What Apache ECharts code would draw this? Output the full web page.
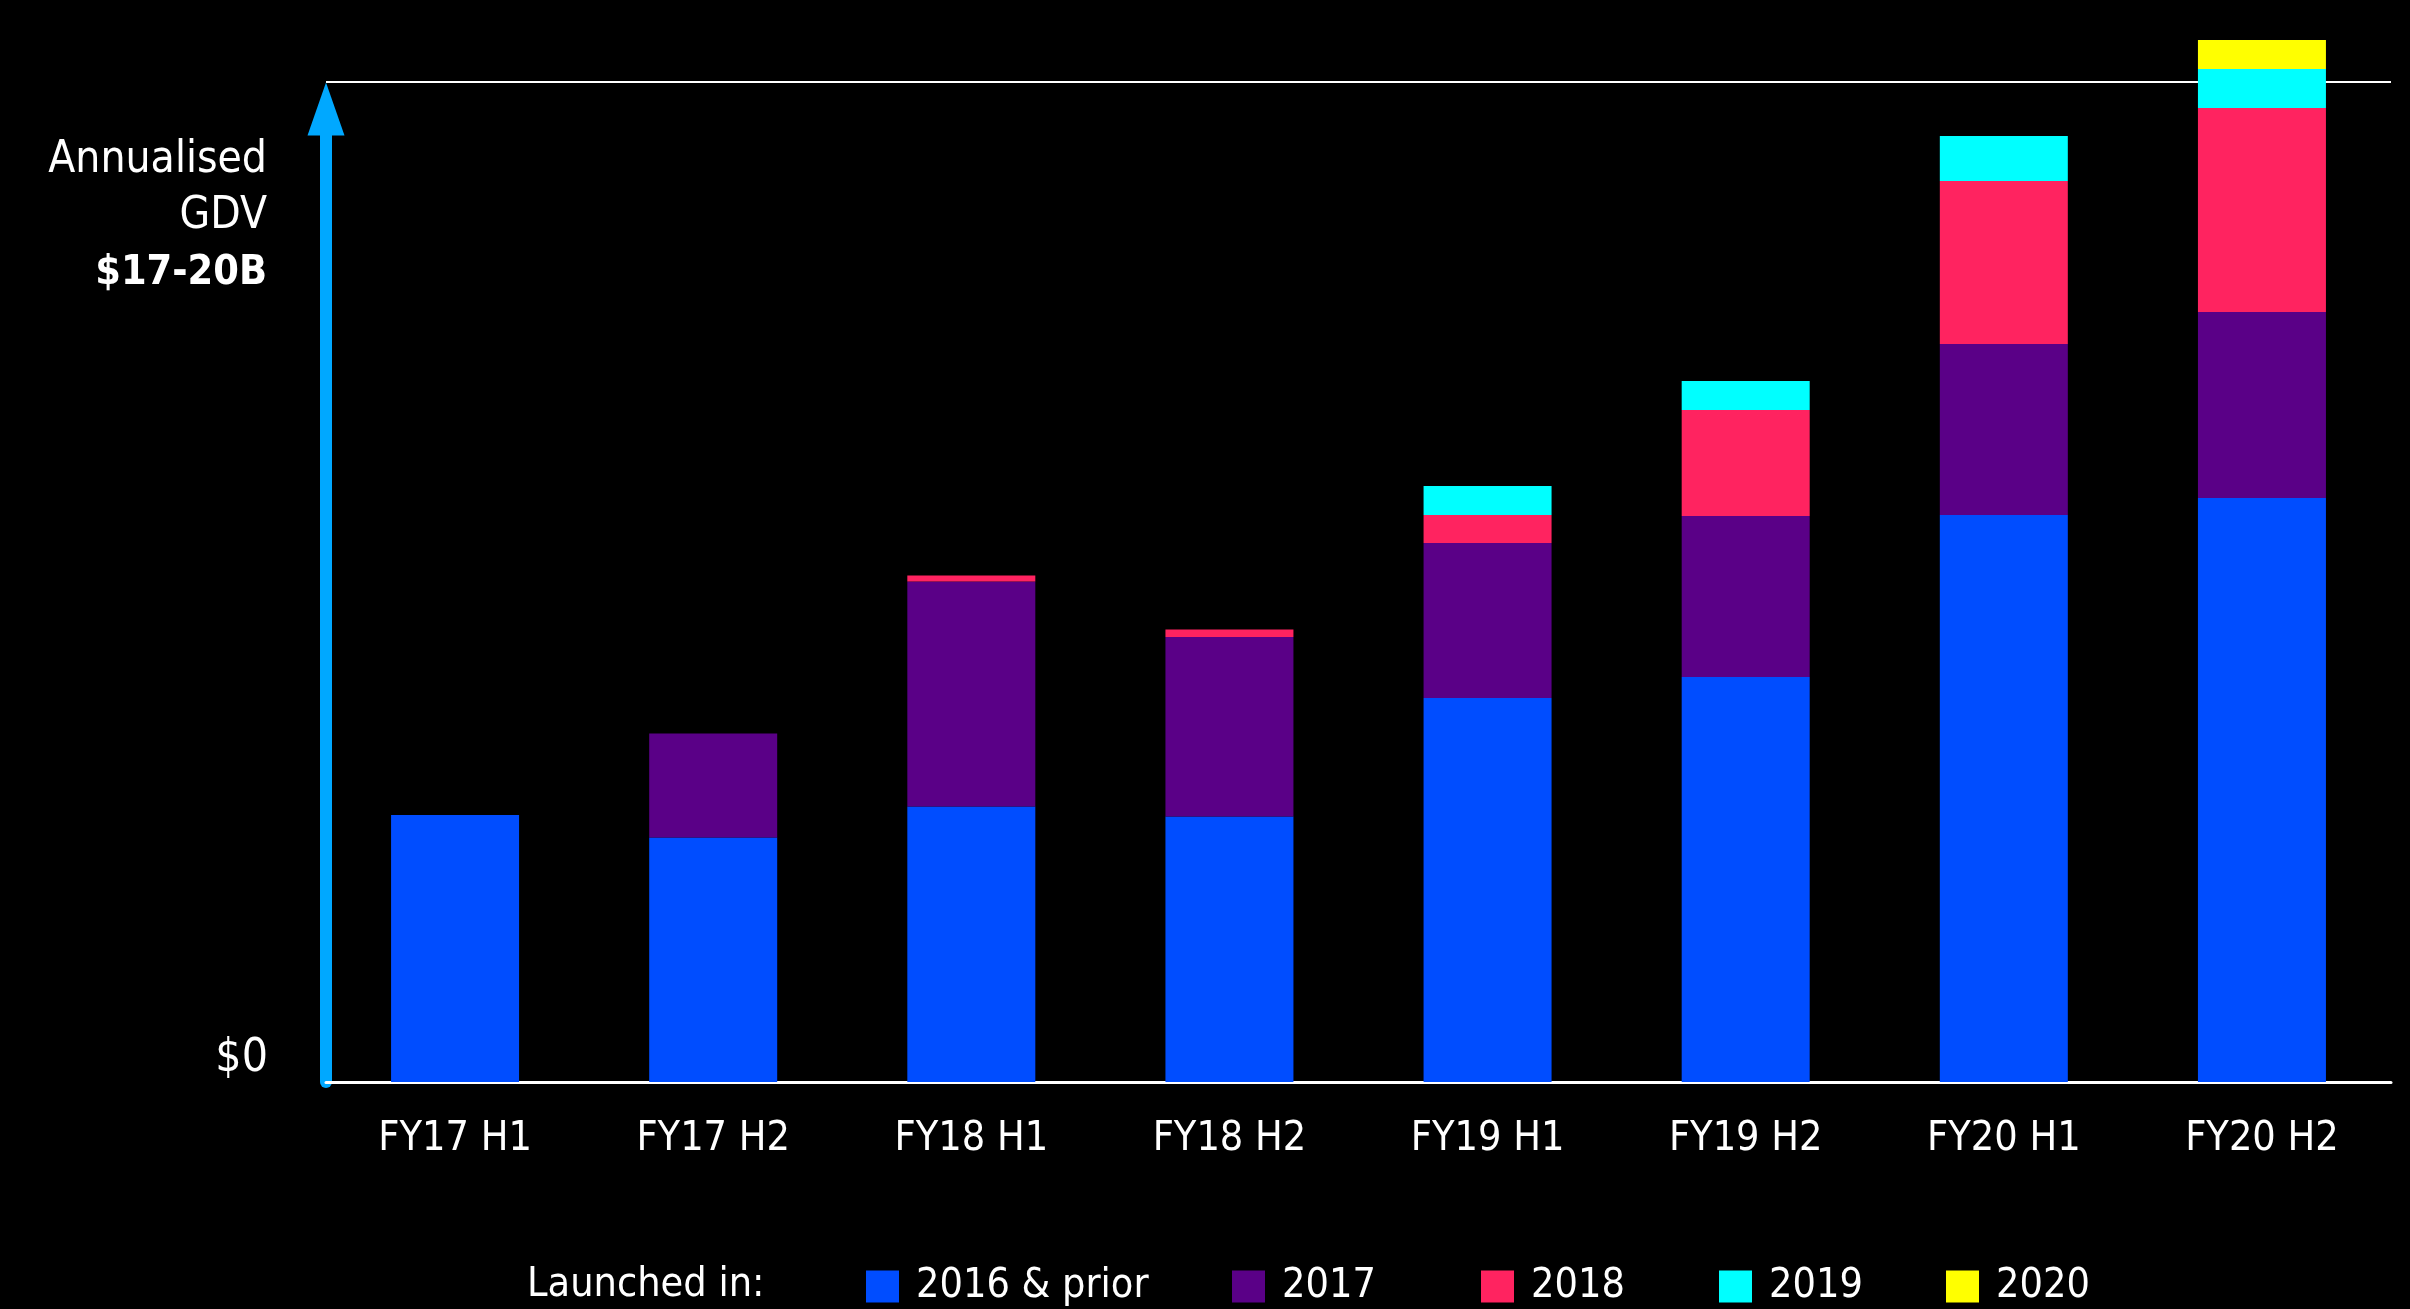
<!DOCTYPE html>
<html>
<head>
<meta charset="utf-8">
<title>Annualised GDV by launch year</title>
<script src="https://cdn.jsdelivr.net/npm/echarts@6/dist/echarts.min.js"></script>
<style>
  html, body { margin: 0; padding: 0; background: #000; }
  #chart { width: 2410px; height: 1309px; }
</style>
</head>
<body>
<div id="chart"></div>
<script>
// Half-year periods on the category axis
const periods = ['FY17 H1', 'FY17 H2', 'FY18 H1', 'FY18 H2', 'FY19 H1', 'FY19 H2', 'FY20 H1', 'FY20 H2'];

// Annualised GDV ($B) by the year the merchants were launched in
const launched2016AndPrior = [5.34, 4.89, 5.51, 5.31, 7.68, 8.10, 11.34, 11.68];
const launched2017 = [0, 2.08, 4.50, 3.59, 3.10, 3.22, 3.42, 3.72];
const launched2018 = [0, 0, 0.12, 0.15, 0.56, 2.12, 3.26, 4.08];
const launched2019 = [0, 0, 0, 0, 0.58, 0.58, 0.90, 0.78];
const launched2020 = [0, 0, 0, 0, 0, 0, 0, 0.58];

const seriesNames = ['2016 & prior', '2017', '2018', '2019', '2020'];
const seriesColors = ['#004DFF', '#5A0087', '#FF2360', '#00FFFF', '#FFFF00'];

// Annualised GDV reference level; the value axis tops out there
const annualisedLevel = 20;
// The arrowed axis stops where its arrowhead begins
const arrowAxisMax = 18.94;

const FONT = "'DejaVu Sans Condensed', 'DejaVu Sans', sans-serif";
const chart = echarts.init(document.getElementById('chart'), null, { renderer: 'canvas' });

const seriesData = [launched2016AndPrior, launched2017, launched2018, launched2019, launched2020];
const series = seriesData.map((values, i) => ({
  name: seriesNames[i],
  type: 'bar',
  stack: 'gdv',
  xAxisIndex: 0,
  yAxisIndex: 0,
  data: values,
  barWidth: 128,
  clip: false,
  z: 3,
  itemStyle: { color: seriesColors[i] },
  emphasis: { disabled: true },
  // Reference line for the annualised GDV level, drawn behind the bars
  markLine: i === 0 ? {
    z: 1,
    silent: true,
    symbol: 'none',
    label: { show: false },
    lineStyle: { color: '#FFFFFF', width: 2, type: 'solid' },
    data: [{ yAxis: annualisedLevel }]
  } : undefined
}));

// One legend per entry so each swatch sits at its own spot along the bottom row
const legendLefts = [861, 1227, 1476, 1714, 1941];
const legends = seriesNames.map((name, i) => ({
  data: [name],
  left: legendLefts[i],
  top: 1261,
  orient: 'horizontal',
  icon: 'rect',
  itemWidth: 33,
  itemHeight: 32,
  itemGap: 0,
  selectedMode: false,
  textStyle: { color: '#FFFFFF', fontSize: 41, lineHeight: 32, fontFamily: FONT, padding: [0, 0, 0, 12] }
}));

const gridBox = { left: 326, right: 19, bottom: 227, containLabel: false };

chart.setOption({
  backgroundColor: '#000000',
  animation: false,
  title: [
    {
      text: '{a|Annualised}\n{a|GDV}\n{b|$17-20B}',
      right: 2410 - 272,
      top: 128,
      textStyle: {
        rich: {
          a: { color: '#FFFFFF', fontSize: 44, fontWeight: 'normal', fontFamily: FONT, lineHeight: 56, align: 'right' },
          b: { color: '#FFFFFF', fontSize: 41, fontWeight: 'bold', fontFamily: FONT, lineHeight: 56, align: 'right' }
        }
      }
    },
    {
      text: 'Launched in:',
      left: 522,
      top: 1264,
      textStyle: { color: '#FFFFFF', fontSize: 41, lineHeight: 32, fontWeight: 'normal', fontFamily: FONT }
    }
  ],
  legend: legends,
  grid: [
    Object.assign({ top: 82 }, gridBox),
    Object.assign({ top: 135 }, gridBox)
  ],
  xAxis: [
    {
      type: 'category',
      gridIndex: 0,
      data: periods,
      axisLine: { show: true, lineStyle: { color: '#FFFFFF', width: 3 } },
      axisTick: { show: false },
      axisLabel: { color: '#FFFFFF', fontSize: 41, fontFamily: FONT, margin: 37 },
      splitLine: { show: false }
    },
    {
      type: 'category',
      gridIndex: 1,
      data: periods,
      show: false
    }
  ],
  yAxis: [
    {
      type: 'value',
      gridIndex: 0,
      min: 0,
      max: annualisedLevel,
      splitLine: { show: false },
      axisTick: { show: false },
      axisLine: { show: false },
      axisLabel: {
        color: '#FFFFFF',
        fontSize: 46,
        fontFamily: FONT,
        margin: 58,
        verticalAlign: 'bottom',
        formatter: v => (v === 0 ? '$0' : '')
      }
    },
    {
      // Blue value axis with its arrowhead
      type: 'value',
      gridIndex: 1,
      min: 0,
      max: arrowAxisMax,
      splitLine: { show: false },
      axisTick: { show: false },
      axisLabel: { show: false },
      axisLine: {
        show: true,
        lineStyle: { color: '#00A8FF', width: 12 },
        symbol: ['none', 'triangle'],
        symbolSize: [37, 53],
        symbolOffset: [0, 26]
      }
    }
  ],
  series: series
});
</script>
</body>
</html>
